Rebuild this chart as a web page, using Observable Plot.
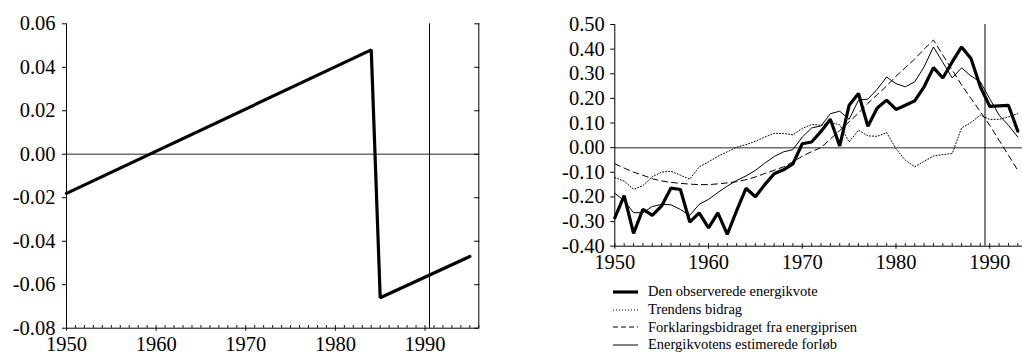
<!DOCTYPE html>
<html><head><meta charset="utf-8">
<script src="https://cdn.jsdelivr.net/npm/d3@7"></script>
<script src="https://cdn.jsdelivr.net/npm/@observablehq/plot@0.6"></script>
<style>
html,body{margin:0;padding:0;background:#fff;overflow:hidden;}
#wrap{position:relative;width:1022px;height:352px;overflow:hidden;}
#left{position:absolute;left:0;top:0;}
#right{position:absolute;left:540px;top:0;}
#legend{position:absolute;left:613px;top:283px;font-family:"Liberation Serif",serif;font-size:14.5px;color:#000;}
#legend .row{display:flex;align-items:center;height:17.7px;white-space:nowrap;}
#legend svg{margin-right:10px;flex:none;}
</style>
</head><body>
<div id="wrap"><div id="left"></div><div id="right"></div><div id="legend"></div></div>
<script>
// ---------- Left panel data ----------
const leftYears = [1950, 1984, 1985, 1995];
const leftValues = [-0.018, 0.048, -0.066, -0.047];
const leftYTicks = [-0.08, -0.06, -0.04, -0.02, 0.00, 0.02, 0.04, 0.06];
const leftVLine = [1990.5];

// ---------- Right panel data ----------
const years = [1950,1951,1952,1953,1954,1955,1956,1957,1958,1959,1960,1961,1962,1963,1964,1965,1966,1967,1968,1969,1970,1971,1972,1973,1974,1975,1976,1977,1978,1979,1980,1981,1982,1983,1984,1985,1986,1987,1988,1989,1990,1991,1992,1993];
const observed = [-0.285,-0.195,-0.348,-0.25,-0.275,-0.236,-0.164,-0.17,-0.302,-0.265,-0.326,-0.265,-0.352,-0.256,-0.165,-0.199,-0.15,-0.106,-0.09,-0.066,0.016,0.023,0.066,0.115,0.007,0.172,0.22,0.087,0.161,0.193,0.155,0.172,0.19,0.247,0.325,0.283,0.348,0.409,0.362,0.247,0.168,0.17,0.172,0.067];
const trend = [-0.121,-0.136,-0.169,-0.154,-0.118,-0.099,-0.096,-0.112,-0.128,-0.078,-0.058,-0.035,-0.017,0.002,0.012,0.026,0.043,0.058,0.058,0.052,0.078,0.094,0.091,0.102,0.093,0.023,0.071,0.048,0.046,0.061,-0.004,-0.051,-0.078,-0.055,-0.034,-0.028,-0.024,0.08,0.102,0.132,0.115,0.115,0.125,0.138];
const priceContribution = [-0.065,-0.083,-0.099,-0.112,-0.126,-0.135,-0.141,-0.145,-0.148,-0.15,-0.15,-0.147,-0.143,-0.138,-0.13,-0.119,-0.105,-0.092,-0.078,-0.058,-0.035,-0.016,0.0,0.035,0.07,0.105,0.14,0.18,0.215,0.25,0.29,0.325,0.36,0.4,0.437,0.376,0.315,0.255,0.2,0.146,0.091,0.03,-0.031,-0.092];
const estimated = [-0.185,-0.215,-0.264,-0.264,-0.239,-0.23,-0.232,-0.251,-0.275,-0.23,-0.21,-0.182,-0.156,-0.133,-0.115,-0.092,-0.063,-0.036,-0.017,-0.008,0.043,0.08,0.088,0.138,0.148,0.115,0.193,0.197,0.237,0.287,0.26,0.247,0.267,0.328,0.409,0.346,0.283,0.324,0.291,0.267,0.199,0.132,0.091,0.043];
const rightYTicks = [-0.4,-0.3,-0.2,-0.1,0,0.1,0.2,0.3,0.4,0.5];
const rightVLine = [1989.5];
const decades = [1950, 1960, 1970, 1980, 1990];
const leftMinorYears = [1950,1951,1952,1953,1954,1955,1956,1957,1958,1959,1960,1961,1962,1963,1964,1965,1966,1967,1968,1969,1970,1971,1972,1973,1974,1975,1976,1977,1978,1979,1980,1981,1982,1983,1984,1985,1986,1987,1988,1989,1990,1991,1992,1993,1994,1995,1996];

const legendLabels = ["Den observerede energikvote","Trendens bidrag","Forklaringsbidraget fra energiprisen","Energikvotens estimerede forløb"];

// ---------- Build left ----------
const leftData = leftYears.map((x, i) => ({x, y: leftValues[i]}));
const fmt2 = d => d.toFixed(2);
const font = "'Liberation Serif', 'Times New Roman', serif";

const leftPlot = Plot.plot({
  width: 490, height: 372,
  marginLeft: 66, marginRight: 11.7, marginTop: 23.3, marginBottom: 44.3,
  x: {domain: [1950, 1996]},
  y: {domain: [-0.08, 0.06]},
  style: {fontFamily: font, fontSize: "20.5px", color: "black", background: "white", overflow: "visible"},
  marks: [
    Plot.ruleY([0], {stroke: "#6e6e6e", strokeWidth: 1.5}),
    Plot.ruleX(leftVLine, {stroke: "black", strokeWidth: 1}),
    Plot.ruleX([1950, 1996], {stroke: "black", strokeWidth: 1}),
    Plot.ruleY([-0.08], {stroke: "black", strokeWidth: 1}),
    Plot.axisY(leftYTicks, {anchor: "left", tickSize: 4, tickPadding: 7, tickFormat: fmt2, label: null}),
    Plot.axisY(leftYTicks, {anchor: "right", tickSize: 5, dx: -5, tickFormat: () => "", label: null}),
    Plot.axisX(leftMinorYears, {anchor: "bottom", tickSize: 2.5, dy: -2.5, tickFormat: () => "", label: null}),
    Plot.axisX(decades, {anchor: "bottom", tickSize: 3, tickPadding: 5, tickFormat: d => String(d), label: null}),
    Plot.line(leftData, {x: "x", y: "y", stroke: "black", strokeWidth: 3.2, strokeLinejoin: "miter"})
  ]
});
document.getElementById("left").appendChild(leftPlot);

// ---------- Build right ----------
const rows = years.map((year, i) => ({year, observed: observed[i], trend: trend[i], price: priceContribution[i], estimated: estimated[i]}));
const rightMinorYears = years;

const rightPlot = Plot.plot({
  width: 482, height: 282,
  marginLeft: 74.3, marginRight: 0, marginTop: 24, marginBottom: 36.3,
  x: {domain: [1950, 1993.5]},
  y: {domain: [-0.4, 0.5]},
  style: {fontFamily: font, fontSize: "20.5px", color: "black", background: "white", overflow: "visible"},
  marks: [
    Plot.ruleY([0], {stroke: "#6e6e6e", strokeWidth: 1.5}),
    Plot.ruleX(rightVLine, {stroke: "black", strokeWidth: 1}),
    Plot.ruleX([1950], {stroke: "black", strokeWidth: 1}),
    Plot.ruleY([-0.4], {stroke: "black", strokeWidth: 1}),
    Plot.axisY(rightYTicks, {anchor: "left", tickSize: 4, tickPadding: 6, tickFormat: fmt2, label: null}),
    Plot.axisX(rightMinorYears, {anchor: "bottom", tickSize: 2.5, dy: -2.5, tickFormat: () => "", label: null}),
    Plot.axisX(decades, {anchor: "bottom", tickSize: 3, tickPadding: 5, tickFormat: d => String(d), label: null}),
    Plot.line(rows, {x: "year", y: "trend", stroke: "black", strokeWidth: 1, strokeDasharray: "1,2"}),
    Plot.line(rows, {x: "year", y: "price", stroke: "black", strokeWidth: 1, strokeDasharray: "6,4"}),
    Plot.line(rows, {x: "year", y: "estimated", stroke: "black", strokeWidth: 1}),
    Plot.line(rows, {x: "year", y: "observed", stroke: "black", strokeWidth: 3.2, strokeLinejoin: "miter"})
  ]
});
document.getElementById("right").appendChild(rightPlot);

// ---------- Legend ----------
const legendStyles = [
  {w: 3.2, dash: null},
  {w: 1, dash: "1,2"},
  {w: 1, dash: "5,3"},
  {w: 1, dash: null}
];
const legend = d3.select("#legend");
legendLabels.forEach((label, i) => {
  const row = legend.append("div").attr("class", "row");
  const s = row.append("svg").attr("width", 25).attr("height", 10);
  const ln = s.append("line").attr("x1", 0).attr("x2", 25).attr("y1", 5).attr("y2", 5)
    .attr("stroke", "black").attr("stroke-width", legendStyles[i].w);
  if (legendStyles[i].dash) ln.attr("stroke-dasharray", legendStyles[i].dash);
  row.append("span").text(label);
});
</script>
</body></html>
